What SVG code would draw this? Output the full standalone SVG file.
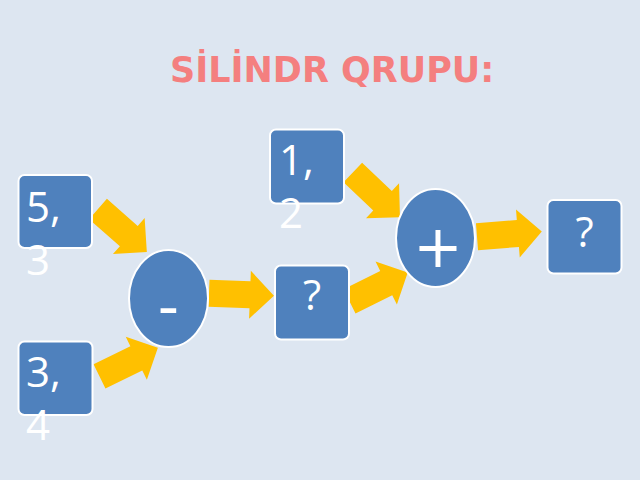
<svg xmlns="http://www.w3.org/2000/svg" width="640" height="480" viewBox="0 0 640 480">
  <style>
    .box { fill: #4F81BD; stroke: #ffffff; stroke-width: 2; }
    .op { fill: #4F81BD; stroke: #ffffff; stroke-width: 2; }
    .num { font-family: "Open Sans", "Noto Sans", sans-serif; font-size: 42px; fill: #ffffff; }
    .sym { font-family: "DejaVu Sans", sans-serif; font-size: 59px; fill: #ffffff; text-anchor: middle; }
    .arrow { fill: #FFC000; }
    .title { font-family: "DejaVu Sans", sans-serif; font-weight: bold; font-size: 35px; fill: #F47F7F; }
  </style>
  <defs>
    <path id="arr" d="M0,-13.5 L41,-13.5 L41,-24 L65,0 L41,24 L41,13.5 L0,13.5 Z"/>
  </defs>
  <rect x="0" y="0" width="640" height="480" fill="#DDE6F1"/>
  <text class="title" x="170" y="82">SİLİNDR QRUPU:</text>

  <g id="connectors" class="arrow">
    <use href="#arr" transform="translate(98,209) rotate(41.3)"/>
    <use href="#arr" transform="translate(99.5,376.3) rotate(-26.1)"/>
    <use href="#arr" transform="translate(209,293.3) rotate(2.1)"/>
    <use href="#arr" transform="translate(349.5,301.3) rotate(-26.4)"/>
    <use href="#arr" transform="translate(352.8,172.5) rotate(43.5)"/>
    <use href="#arr" transform="translate(477,236.7) rotate(-4.5)"/>
  </g>

  <g id="n12">
    <rect class="box" x="270" y="129.5" width="74" height="74" rx="6"/>
    <text class="num"><tspan x="279" y="175">1,</tspan><tspan x="279" y="228">2</tspan></text>
  </g>
  <g id="n53">
    <rect class="box" x="18.5" y="175" width="73.5" height="73" rx="6"/>
    <text class="num"><tspan x="26" y="222">5,</tspan><tspan x="26" y="275">3</tspan></text>
  </g>
  <g id="n34">
    <rect class="box" x="18.5" y="341.5" width="74" height="73.5" rx="6"/>
    <text class="num"><tspan x="26" y="387">3,</tspan><tspan x="26" y="440">4</tspan></text>
  </g>
  <g id="minus">
    <ellipse class="op" cx="168.5" cy="298.5" rx="39.5" ry="48.5"/>
    <text class="sym" x="168.5" y="327">-</text>
  </g>
  <g id="plus">
    <ellipse class="op" cx="435.5" cy="238" rx="39.5" ry="49"/>
    <text class="sym" x="438" y="267">+</text>
  </g>
  <g id="q1">
    <rect class="box" x="275" y="265.5" width="74" height="74" rx="6"/>
    <text class="num" x="312" y="310" text-anchor="middle">?</text>
  </g>
  <g id="q2">
    <rect class="box" x="547.5" y="200" width="74" height="73.5" rx="6"/>
    <text class="num" x="584.5" y="247" text-anchor="middle">?</text>
  </g>
</svg>
